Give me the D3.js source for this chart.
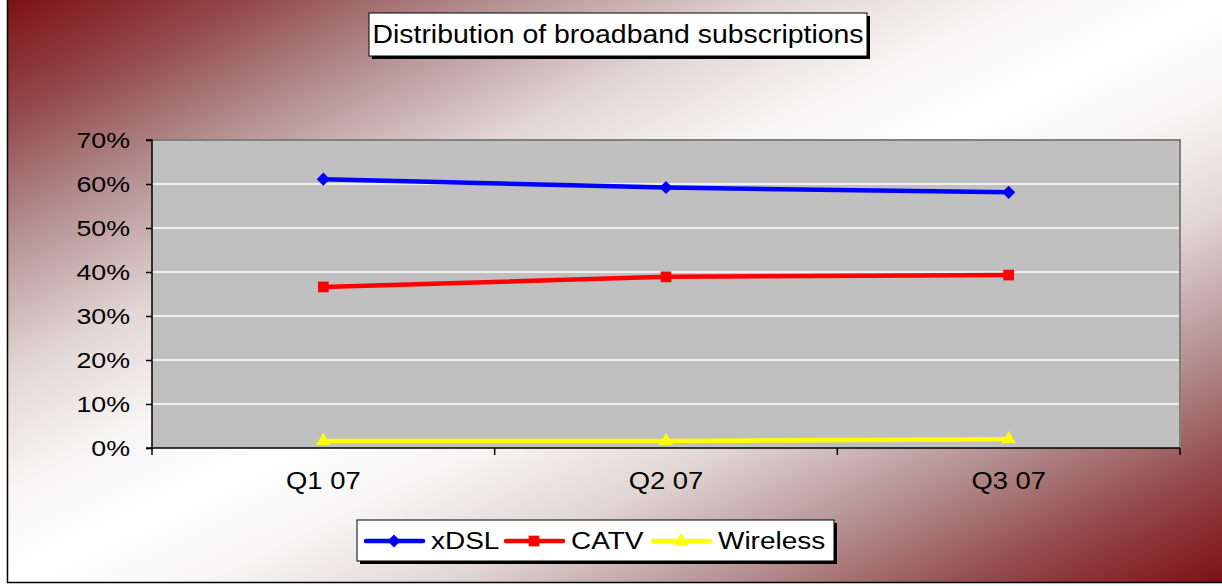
<!DOCTYPE html>
<html>
<head>
<meta charset="utf-8">
<script src="https://cdn.jsdelivr.net/npm/d3@7"></script>
<style>
  html, body { margin: 0; padding: 0; background: #fff; }
  svg { display: block; font-family: "Liberation Sans", Arial, sans-serif; }
</style>
</head>
<body>
<svg id="chart" width="1222" height="586"></svg>
<script>
// Quarterly share of broadband subscriptions by access technology
const quarters = ["Q1 07", "Q2 07", "Q3 07"];
const xdsl     = [0.611, 0.592, 0.581];
const catv     = [0.366, 0.389, 0.393];
const wireless = [0.016, 0.016, 0.020];
const yTicks   = [0, 0.1, 0.2, 0.3, 0.4, 0.5, 0.6, 0.7];

const seriesList = [
  { name: "xDSL",     values: xdsl,     color: "#0000ff", symbol: d3.symbolDiamond2, size: 110 },
  { name: "CATV",     values: catv,     color: "#ff0000", symbol: d3.symbolSquare,   size: 115 },
  { name: "Wireless", values: wireless, color: "#ffff00", symbol: d3.symbolTriangle, size: 85 }
];

// Text in this chart is set slightly wide
const STRETCH = 1.19;
function widen(sel) {
  sel.each(function () {
    const len = this.getComputedTextLength();
    d3.select(this).attr("textLength", len * STRETCH).attr("lengthAdjust", "spacingAndGlyphs");
  });
}

const svg = d3.select("#chart");
const W = 1222, H = 586;

// Diagonal dark-red / white / dark-red background
const defs = svg.append("defs");
const grad = defs.append("linearGradient")
  .attr("id", "bg").attr("x1", 0).attr("y1", 0).attr("x2", 1).attr("y2", 1);
[[0, "#7d1115"], [0.1, "#93494c"], [0.2, "#b38e8f"], [0.32, "#e2d6d6"],
 [0.42, "#f7f5f5"], [0.5, "#ffffff"], [0.58, "#f7f5f5"], [0.68, "#e2d6d6"],
 [0.8, "#b38e8f"], [0.9, "#93494c"], [1, "#7d1115"]]
  .forEach(([o, c]) => grad.append("stop").attr("offset", o).attr("stop-color", c));

svg.append("rect").attr("x", 8).attr("y", 0).attr("width", W - 8).attr("height", 582)
  .attr("fill", "url(#bg)");
svg.append("line").attr("x1", 7.5).attr("x2", 7.5).attr("y1", 0).attr("y2", 582.5)
  .attr("stroke", "#000").attr("stroke-width", 1.5);
svg.append("line").attr("x1", 7).attr("x2", W).attr("y1", 582.5).attr("y2", 582.5)
  .attr("stroke", "#000").attr("stroke-width", 1.5);

// Plot area
const plot = { left: 152, top: 140, right: 1180, bottom: 448 };

const x = d3.scaleBand().domain(quarters).range([plot.left, plot.right]).padding(0);
const y = d3.scaleLinear().domain([0, 0.7]).range([plot.bottom, plot.top]);

svg.append("rect")
  .attr("x", plot.left).attr("y", plot.top)
  .attr("width", plot.right - plot.left).attr("height", plot.bottom - plot.top)
  .attr("fill", "#c0c0c0");

// Horizontal gridlines
svg.append("g").selectAll("line").data(yTicks.filter(t => t > 0 && t < 0.7)).join("line")
  .attr("x1", plot.left).attr("x2", plot.right)
  .attr("y1", d => y(d)).attr("y2", d => y(d))
  .attr("stroke", "#ffffff").attr("stroke-width", 1.5);

// Plot frame (top and right in grey)
svg.append("path")
  .attr("d", `M${plot.left},${plot.top}H${plot.right}V${plot.bottom}`)
  .attr("fill", "none").attr("stroke", "#808080").attr("stroke-width", 2);

// Y axis
const yAxis = d3.axisLeft(y).tickValues(yTicks).tickFormat(d3.format(".0%"))
  .tickSize(6).tickPadding(16);
const gy = svg.append("g").attr("transform", `translate(${plot.left},0)`).call(yAxis);
gy.select(".domain").attr("stroke", "#000").attr("stroke-width", 1.5)
  .attr("d", `M-6,${plot.top}H0V${plot.bottom + 1}`);
gy.selectAll(".tick line").attr("stroke", "#000").attr("stroke-width", 1.5);
gy.selectAll(".tick text").attr("font-size", 22.5).attr("fill", "#000")
  .attr("font-family", "Liberation Sans, Arial, sans-serif").call(widen);

// X axis with tick marks between categories
const gx = svg.append("g").attr("transform", `translate(0,${plot.bottom})`)
  .call(d3.axisBottom(x).tickSize(0).tickPadding(25));
gx.select(".domain").attr("stroke", "#000").attr("stroke-width", 1.5)
  .attr("d", `M${plot.left - 6},0H${plot.right}`);
gx.selectAll(".tick text").attr("font-size", 23).attr("fill", "#000")
  .attr("font-family", "Liberation Sans, Arial, sans-serif").call(widen);
const bounds = quarters.map(q => x(q)).concat([x(quarters[quarters.length - 1]) + x.bandwidth()]);
gx.append("g").selectAll("line").data(bounds).join("line")
  .attr("x1", d => d).attr("x2", d => d).attr("y1", 0).attr("y2", 7)
  .attr("stroke", "#000").attr("stroke-width", 1.5);

// Series lines and markers
const cx = q => x(q) + x.bandwidth() / 2;
const line = d3.line().x((d, i) => cx(quarters[i])).y(d => y(d));

seriesList.forEach(s => {
  svg.append("path").datum(s.values)
    .attr("d", line).attr("fill", "none")
    .attr("stroke", s.color).attr("stroke-width", 4.5).attr("stroke-linejoin", "round");
  svg.append("g").selectAll("path").data(s.values).join("path")
    .attr("transform", (d, i) => `translate(${cx(quarters[i])},${y(d)})`)
    .attr("d", d3.symbol(s.symbol, s.size))
    .attr("fill", s.color);
});

// Title box with drop shadow
const title = { x: 369, y: 13, w: 498, h: 43 };
svg.append("rect").attr("x", title.x + 3).attr("y", title.y + 3)
  .attr("width", title.w).attr("height", title.h).attr("fill", "#000");
svg.append("rect").attr("x", title.x).attr("y", title.y)
  .attr("width", title.w).attr("height", title.h)
  .attr("fill", "#fff").attr("stroke", "#000").attr("stroke-width", 1);
svg.append("text").attr("x", title.x + title.w / 2).attr("y", title.y + 30)
  .attr("text-anchor", "middle").attr("font-size", 25).attr("fill", "#000")
  .text("Distribution of broadband subscriptions")
  .call(sel => sel.attr("textLength", 491).attr("lengthAdjust", "spacingAndGlyphs"));

// Legend box with drop shadow
const legend = { x: 357, y: 520, w: 477, h: 41 };
svg.append("rect").attr("x", legend.x + 3).attr("y", legend.y + 3)
  .attr("width", legend.w).attr("height", legend.h).attr("fill", "#000");
svg.append("rect").attr("x", legend.x).attr("y", legend.y)
  .attr("width", legend.w).attr("height", legend.h)
  .attr("fill", "#fff").attr("stroke", "#000").attr("stroke-width", 1);

const legendX = [366, 506, 653];
const legendY = legend.y + 21;
seriesList.forEach((s, i) => {
  const lx = legendX[i];
  svg.append("line").attr("x1", lx).attr("x2", lx + 57)
    .attr("y1", legendY).attr("y2", legendY)
    .attr("stroke", s.color).attr("stroke-width", 4.5).attr("stroke-linecap", "round");
  svg.append("path").attr("transform", `translate(${lx + 28},${legendY})`)
    .attr("d", d3.symbol(s.symbol, s.size)).attr("fill", s.color);
  svg.append("text").attr("x", lx + 65).attr("y", legendY + 8)
    .attr("font-size", 23.5).attr("fill", "#000").text(s.name).call(widen);
});
</script>
</body>
</html>
